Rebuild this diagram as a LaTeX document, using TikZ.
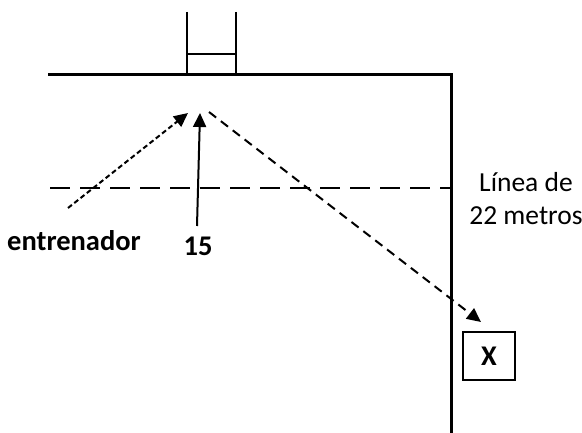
\documentclass[tikz,border=0pt]{standalone}
\usepackage{fontspec}
\setmainfont{Carlito}
\usetikzlibrary{arrows.meta,positioning}
\begin{document}
\begin{tikzpicture}[x=1pt,y=-1pt,
  font=\fontsize{27.5}{33}\selectfont,
  l/.style={line width=3pt},
  a/.style={-{Triangle[length=14pt,width=13pt]}, line width=2pt},
  t/.style={font=\fontsize{28.5}{33}\selectfont\bfseries, inner sep=0pt}
]
\useasboundingbox (0,0) rectangle (582,433);
% campo y porteria
\draw[l] (48,75) -- (451,75) -- (451,433);
\draw[line width=2.5pt] (187,12) -- (187,75) (236,12) -- (236,75);
\draw[line width=2pt] (187,54) -- (236,54);
\draw[line width=2.5pt, dash pattern=on 20pt off 10pt] (50,188) -- (451,188);
% textos
\node[t] (ent) at (74,241) {entrenador};
\node[t] (q) at (198,246) {15};
\node[align=center, inner sep=0pt] (lin) at (526,199) {Línea de\\22 metros};
\node[t, draw, line width=1.5pt, minimum width=52pt, minimum height=48pt] (x) at (489,356) {X};
% puntos
\coordinate (e1) at (68,208);
\coordinate (p1) at (188,113);
\coordinate (s1) at (197,226);
\coordinate (p2) at (200,113);
\coordinate (p3) at (209,112);
\coordinate (x1) at (481,322);
% flechas
\draw[a, dash pattern=on 5pt off 3pt] (e1) -- (p1);
\draw[a] (s1) -- (p2);
\draw[a, dash pattern=on 9pt off 6pt] (p3) -- (x1);
\end{tikzpicture}
\end{document}
